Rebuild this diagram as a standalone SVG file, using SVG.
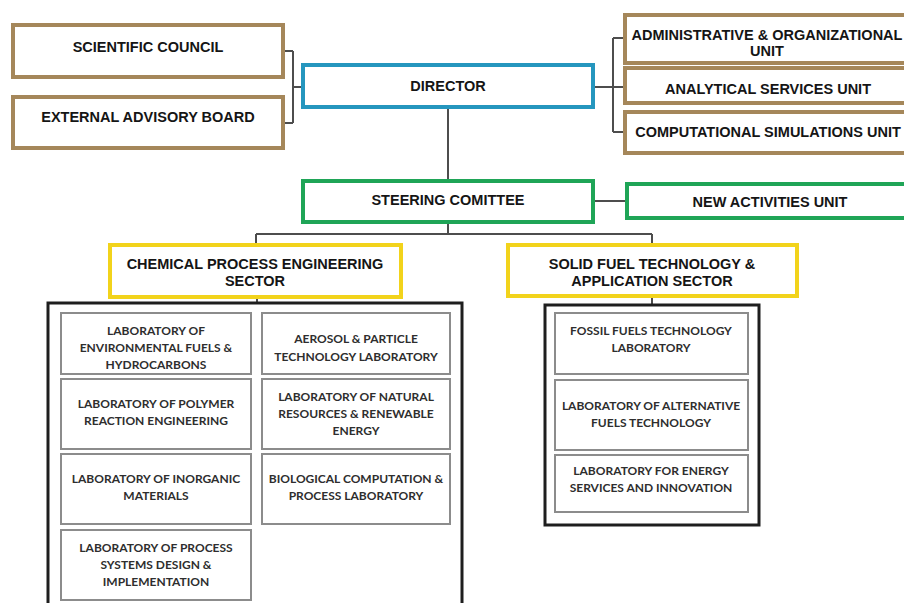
<svg xmlns="http://www.w3.org/2000/svg" width="904" height="603" viewBox="0 0 904 603">
  <style>
    .bg { fill: #ffffff; }
    .tan { fill: #ffffff; stroke: #a5875a; stroke-width: 4; }
    .blue { fill: #ffffff; stroke: #2596be; stroke-width: 4; }
    .green { fill: #ffffff; stroke: #1fa557; stroke-width: 4; }
    .yellow { fill: #ffffff; stroke: #f2d31b; stroke-width: 4; }
    .frame { fill: #ffffff; stroke: #1e1e1e; stroke-width: 3; }
    .lab { fill: #ffffff; stroke: #8c8c8c; stroke-width: 2; }
    .conn { fill: none; stroke: #4d4d4d; stroke-width: 2; }
    .t { font-family: "Liberation Sans", Arial, sans-serif; font-weight: bold; font-size: 14.5px; fill: #151515; text-anchor: middle; }
    .l { font-family: Lato, "Open Sans", sans-serif; font-weight: bold; font-size: 12px; fill: #2e2e2e; text-anchor: middle; }
  </style>

  <rect class="bg" x="0" y="0" width="904" height="603"/>

  <!-- connectors -->
  <g id="connectors">
    <path class="conn" d="M283,51 H293 M283,123 H293 M293,51 V123 M293,87 H303"/>
    <path class="conn" d="M593,87 H613 M613,38 V132 M613,38 H625 M613,87 H625 M613,132 H625"/>
    <path class="conn" d="M448,107 V181"/>
    <path class="conn" d="M593,201 H627"/>
    <path class="conn" d="M448,222 V234 M256,234 H652 M256,234 V245 M652,234 V245"/>
    <path class="conn" d="M257,297 V303 M652,296 V305"/>
  </g>

  <!-- advisory bodies -->
  <g id="scientific-council">
    <rect class="tan" x="13" y="25" width="270" height="52"/>
    <text class="t" x="148" y="52">SCIENTIFIC COUNCIL</text>
  </g>
  <g id="external-advisory-board">
    <rect class="tan" x="13" y="97" width="270" height="51"/>
    <text class="t" x="148" y="122">EXTERNAL ADVISORY BOARD</text>
  </g>

  <g id="director">
    <rect class="blue" x="303" y="65" width="290" height="42"/>
    <text class="t" x="448" y="91">DIRECTOR</text>
  </g>

  <!-- support units -->
  <g id="admin-unit">
    <rect class="tan" x="625" y="15" width="283" height="48"/>
    <text class="t" x="767" y="40">ADMINISTRATIVE &amp; ORGANIZATIONAL</text>
    <text class="t" x="767" y="56">UNIT</text>
  </g>
  <g id="analytical-unit">
    <rect class="tan" x="625" y="68" width="283" height="35"/>
    <text class="t" x="768" y="94">ANALYTICAL SERVICES UNIT</text>
  </g>
  <g id="computational-unit">
    <rect class="tan" x="625" y="112" width="283" height="41"/>
    <text class="t" x="768" y="137">COMPUTATIONAL SIMULATIONS UNIT</text>
  </g>

  <g id="steering-committee">
    <rect class="green" x="303" y="181" width="290" height="41"/>
    <text class="t" x="448" y="205">STEERING COMITTEE</text>
  </g>
  <g id="new-activities-unit">
    <rect class="green" x="627" y="184" width="283" height="34"/>
    <text class="t" x="770" y="207">NEW ACTIVITIES UNIT</text>
  </g>

  <!-- sectors -->
  <g id="chemical-sector">
    <rect class="yellow" x="110" y="245" width="291" height="52"/>
    <text class="t" x="255" y="269">CHEMICAL PROCESS ENGINEERING</text>
    <text class="t" x="255" y="286">SECTOR</text>
  </g>
  <g id="solid-fuel-sector">
    <rect class="yellow" x="508" y="245" width="289" height="51"/>
    <text class="t" x="652" y="269">SOLID FUEL TECHNOLOGY &amp;</text>
    <text class="t" x="652" y="286">APPLICATION SECTOR</text>
  </g>

  <!-- chemical process engineering laboratories -->
  <g id="chemical-labs">
    <rect class="frame" x="48" y="303" width="414" height="310"/>
    <g id="lab-env-fuels">
      <rect class="lab" x="61" y="313" width="190" height="61"/>
      <text class="l" x="156" y="335">LABORATORY OF</text>
      <text class="l" x="156" y="352">ENVIRONMENTAL FUELS &amp;</text>
      <text class="l" x="156" y="369">HYDROCARBONS</text>
    </g>
    <g id="lab-aerosol">
      <rect class="lab" x="262" y="313" width="188" height="61"/>
      <text class="l" x="356" y="343">AEROSOL &amp; PARTICLE</text>
      <text class="l" x="356" y="361">TECHNOLOGY LABORATORY</text>
    </g>
    <g id="lab-polymer">
      <rect class="lab" x="61" y="379" width="190" height="70"/>
      <text class="l" x="156" y="408">LABORATORY OF POLYMER</text>
      <text class="l" x="156" y="425">REACTION ENGINEERING</text>
    </g>
    <g id="lab-natural-resources">
      <rect class="lab" x="262" y="379" width="188" height="70"/>
      <text class="l" x="356" y="401">LABORATORY OF NATURAL</text>
      <text class="l" x="356" y="418">RESOURCES &amp; RENEWABLE</text>
      <text class="l" x="356" y="435">ENERGY</text>
    </g>
    <g id="lab-inorganic">
      <rect class="lab" x="61" y="454" width="190" height="70"/>
      <text class="l" x="156" y="483">LABORATORY OF INORGANIC</text>
      <text class="l" x="156" y="500">MATERIALS</text>
    </g>
    <g id="lab-biological">
      <rect class="lab" x="262" y="454" width="188" height="70"/>
      <text class="l" x="356" y="483">BIOLOGICAL COMPUTATION &amp;</text>
      <text class="l" x="356" y="500">PROCESS LABORATORY</text>
    </g>
    <g id="lab-process-systems">
      <rect class="lab" x="61" y="530" width="190" height="70"/>
      <text class="l" x="156" y="552">LABORATORY OF PROCESS</text>
      <text class="l" x="156" y="569">SYSTEMS DESIGN &amp;</text>
      <text class="l" x="156" y="586">IMPLEMENTATION</text>
    </g>
  </g>

  <!-- solid fuel laboratories -->
  <g id="solid-fuel-labs">
    <rect class="frame" x="545" y="305" width="214" height="220"/>
    <g id="lab-fossil">
      <rect class="lab" x="555" y="313" width="193" height="61"/>
      <text class="l" x="651" y="335">FOSSIL FUELS TECHNOLOGY</text>
      <text class="l" x="651" y="352">LABORATORY</text>
    </g>
    <g id="lab-alternative">
      <rect class="lab" x="555" y="380" width="193" height="70"/>
      <text class="l" x="651" y="410">LABORATORY OF ALTERNATIVE</text>
      <text class="l" x="651" y="427">FUELS TECHNOLOGY</text>
    </g>
    <g id="lab-energy-services">
      <rect class="lab" x="555" y="455" width="193" height="57"/>
      <text class="l" x="651" y="475">LABORATORY FOR ENERGY</text>
      <text class="l" x="651" y="492">SERVICES AND INNOVATION</text>
    </g>
  </g>
</svg>
